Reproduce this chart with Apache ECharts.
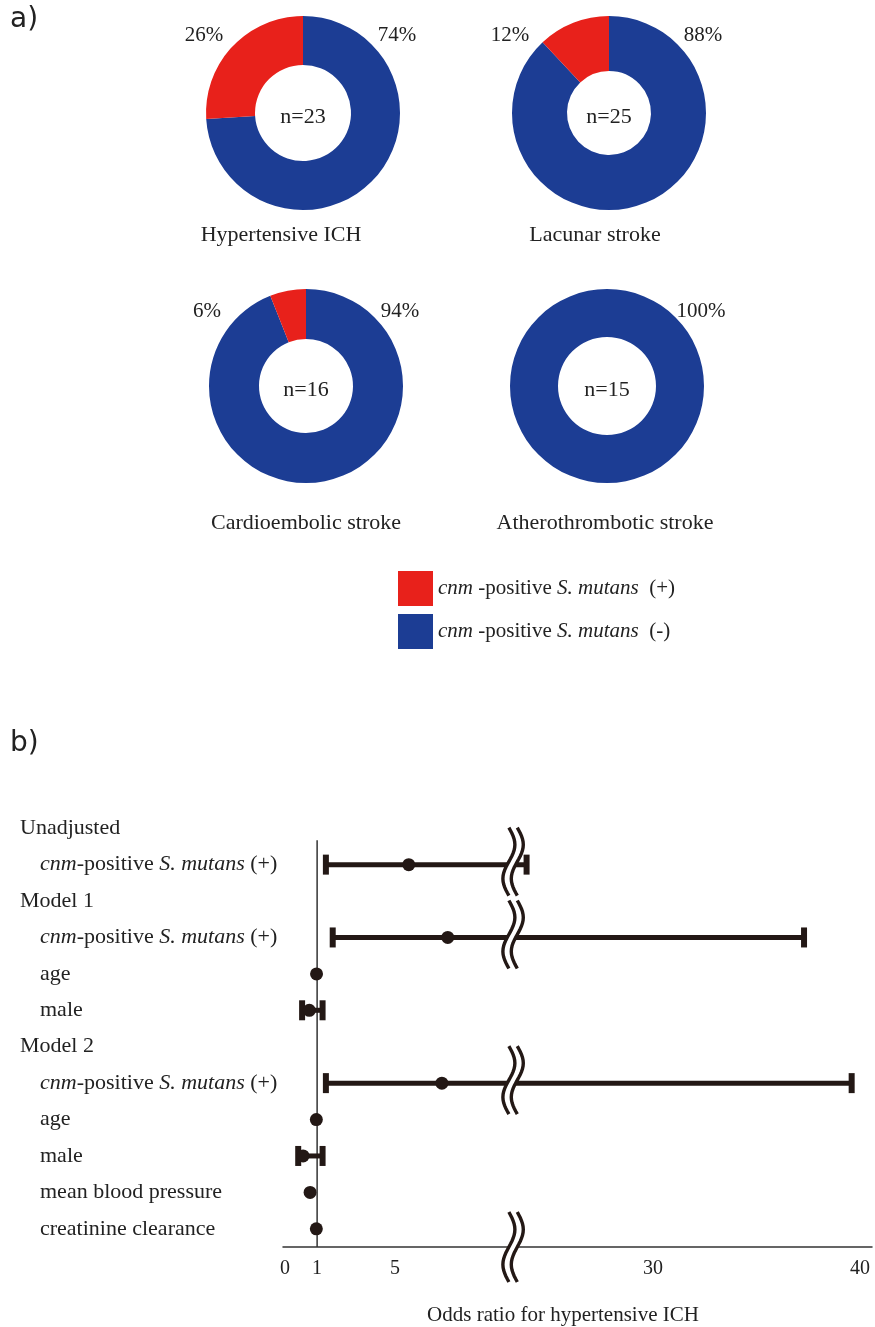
<!DOCTYPE html>
<html>
<head>
<meta charset="utf-8">
<script src="https://cdn.jsdelivr.net/npm/echarts@6/dist/echarts.min.js"></script>
<style>
html,body{margin:0;padding:0;background:#fff;}
#main{width:875px;height:1327px;}
</style>
</head>
<body>
<div id="main"></div>
<script>
// ---------- DATA: panel a (donuts) ----------
const strokeTypes = ['Hypertensive ICH', 'Lacunar stroke', 'Cardioembolic stroke', 'Atherothrombotic stroke'];
const sampleSizes = [23, 25, 16, 15];
const positivePct = [26, 12, 6, 0];
const negativePct = [74, 88, 94, 100];
const legendNames = ['cnm-positive S. mutans (+)', 'cnm-positive S. mutans (-)'];

// ---------- DATA: panel b (forest plot) ----------
const rowLabels = ['Unadjusted', 'cnm-positive S. mutans (+)', 'Model 1', 'cnm-positive S. mutans (+)', 'age', 'male',
  'Model 2', 'cnm-positive S. mutans (+)', 'age', 'male', 'mean blood pressure', 'creatinine clearance'];
const rowIsHeader = [true, false, true, false, false, false, true, false, false, false, false, false];
const oddsRatio = [null, 5.7, null, 7.7, 0.97, 0.6, null, 7.4, 0.96, 0.28, 0.64, 0.96];
const ciLower   = [null, 1.45, null, 1.8, 0.95, 0.23, null, 1.45, 0.94, 0.03, 0.62, 0.94];
const ciUpper   = [null, 23.9, null, 37.3, 0.99, 1.28, null, 39.6, 0.98, 1.28, 0.66, 0.98];
const xTickValues = [0, 1, 5, 30, 40];
const axisBreak = { start: 11, end: 23.2 };   // broken x-axis range

// ---------- helpers ----------
const SERIF = '"Liberation Serif", "DejaVu Serif", serif';
const BLUE = '#1c3d94', RED = '#e8211b', INK = '#231815';
const UPPER_SCALE = 1.062;
function toDisplay(v) {
  return v <= axisBreak.start ? v : axisBreak.start + (v - axisBreak.end) * UPPER_SCALE;
}
function richLabel(s) {
  return s.replace('cnm', '{i|cnm}').replace('S. mutans', '{i|S. mutans}')
          .split(/(\{i\|[^}]*\})/).map(p => p.startsWith('{i|') ? p : (p ? '{r|' + p + '}' : '')).join('');
}

const chart = echarts.init(document.getElementById('main'), null, { renderer: 'canvas' });

// donut layout
const donutCenters = [[303, 113], [609, 113], [306, 386], [607, 386]];
const donutInner = [48, 42, 47, 49];
const donutOuter = 97;
const nameOffsets = [[-22, 122], [-14, 122], [0, 137], [-2, 137]];

const pieSeries = strokeTypes.map((t, i) => ({
  type: 'pie',
  name: t,
  center: donutCenters[i],
  radius: [donutInner[i], donutOuter],
  startAngle: 90,
  clockwise: true,
  silent: true,
  animation: false,
  label: { show: false },
  labelLine: { show: false },
  emphasis: { disabled: true },
  itemStyle: { borderWidth: 0 },
  data: [
    { name: legendNames[1], value: negativePct[i], itemStyle: { color: BLUE } },
    { name: legendNames[0], value: positivePct[i], itemStyle: { color: RED } }
  ]
}));

// text graphics for donuts
const graphics = [];
strokeTypes.forEach((t, i) => {
  const [cx, cy] = donutCenters[i];
  const dy = i < 2 ? -78 : -75;
  if (positivePct[i] > 0) {
    graphics.push({ type: 'text', x: cx - 99, y: cy + dy, style: { text: positivePct[i] + '%', font: '21px ' + SERIF, fill: '#222', align: 'center', verticalAlign: 'middle' } });
  }
  graphics.push({ type: 'text', x: cx + 94, y: cy + dy, style: { text: negativePct[i] + '%', font: '21px ' + SERIF, fill: '#222', align: 'center', verticalAlign: 'middle' } });
  graphics.push({ type: 'text', x: cx, y: cy + 4, style: { text: 'n=' + sampleSizes[i], font: '22px ' + SERIF, fill: '#222', align: 'center', verticalAlign: 'middle' } });
  graphics.push({ type: 'text', x: cx + nameOffsets[i][0], y: cy + nameOffsets[i][1], style: { text: t, font: '22px ' + SERIF, fill: '#222', align: 'center', verticalAlign: 'middle' } });
});
graphics.push({ type: 'text', left: 10, top: 6, style: { text: 'a)', font: '28px "DejaVu Sans", sans-serif', fill: '#222' } });
graphics.push({ type: 'text', left: 10, top: 730, style: { text: 'b)', font: '28px "DejaVu Sans", sans-serif', fill: '#222' } });

// forest data in display coordinates
const forestData = [];
rowLabels.forEach((l, i) => {
  if (oddsRatio[i] !== null) forestData.push([i, toDisplay(ciLower[i]), toDisplay(oddsRatio[i]), toDisplay(ciUpper[i])]);
});
const breakRows = [];
rowLabels.forEach((l, i) => {
  if (ciUpper[i] !== null && ciUpper[i] > axisBreak.start) breakRows.push([i, axisBreak.start]);
});

function wavy(xc, yc, h) {
  const A = 6, N = 24, off = 4.2;
  const left = [], right = [];
  for (let k = 0; k <= N; k++) {
    const t = k / N;
    const y = yc - h / 2 + t * h;
    const x = xc + A * Math.sin(2 * Math.PI * t);
    left.push([x - off, y]);
    right.push([x + off, y]);
  }
  return [
    { type: 'polygon', shape: { points: left.concat(right.slice().reverse()) }, style: { fill: '#fff' } },
    { type: 'polyline', shape: { points: left }, style: { stroke: INK, lineWidth: 3.4, fill: null } },
    { type: 'polyline', shape: { points: right }, style: { stroke: INK, lineWidth: 3.4, fill: null } }
  ];
}

const option = {
  animation: false,
  backgroundColor: '#fff',
  textStyle: { fontFamily: SERIF },
  legend: {
    data: legendNames,
    orient: 'vertical',
    left: 398,
    top: 571,
    padding: 0,
    icon: 'rect',
    itemWidth: 35,
    itemHeight: 35,
    itemGap: 8,
    selectedMode: false,
    formatter: function (name) {
      return name.replace('cnm-', '{i|cnm} -').replace('S. mutans', '{i|S. mutans}').replace(' (', '  (');
    },
    textStyle: {
      fontFamily: SERIF, fontSize: 21, color: '#222',
      rich: { i: { fontStyle: 'italic', fontFamily: SERIF, fontSize: 21, color: '#222' } }
    }
  },
  grid: { left: 283, right: 3, top: 810, bottom: 79, containLabel: false },
  xAxis: {
    type: 'value',
    min: -0.75,
    max: 29.46,
    axisLine: { show: true, lineStyle: { color: '#333', width: 1.5 } },
    axisTick: { show: false },
    splitLine: { show: false },
    axisLabel: {
      customValues: xTickValues.map(toDisplay),
      margin: 12,
      formatter: function (v) {
        const idx = xTickValues.findIndex(t => Math.abs(toDisplay(t) - v) < 1e-6);
        const t = idx >= 0 ? xTickValues[idx] : v;
        return t === 0 ? '{z|0}' : '{n|' + t + '}';
      },
      rich: {
        z: { fontFamily: SERIF, fontSize: 20, color: '#222', padding: [0, 25, 0, 0] },
        n: { fontFamily: SERIF, fontSize: 20, color: '#222' }
      }
    },
    name: 'Odds ratio for hypertensive ICH',
    nameLocation: 'middle',
    nameGap: 58,
    nameTextStyle: { fontFamily: SERIF, fontSize: 21, color: '#222', padding: [0, 29, 0, 0] }
  },
  yAxis: {
    type: 'category',
    data: rowLabels,
    inverse: true,
    axisLine: { show: false },
    axisTick: { show: false },
    splitLine: { show: false },
    axisLabel: {
      align: 'left',
      margin: 263,
      interval: 0,
      formatter: function (value, index) {
        if (rowIsHeader[index]) return '{h|' + value + '}';
        return '{pad|}' + richLabel(value);
      },
      rich: {
        h: { fontFamily: SERIF, fontSize: 22, color: '#222' },
        r: { fontFamily: SERIF, fontSize: 22, color: '#222' },
        i: { fontFamily: SERIF, fontSize: 22, color: '#222', fontStyle: 'italic' },
        pad: { width: 20, fontSize: 22 }
      }
    }
  },
  graphic: graphics,
  series: pieSeries.concat([
    {
      type: 'custom',
      name: 'reference',
      silent: true,
      z: 2,
      data: [[1, 0]],
      renderItem: function (params, api) {
        const top = api.coord([api.value(0), api.value(1)]);
        const cs = params.coordSys;
        return { type: 'line', shape: { x1: top[0], y1: top[1] + 12, x2: top[0], y2: cs.y + cs.height }, style: { stroke: '#333', lineWidth: 1.5 } };
      }
    },
    {
      type: 'custom',
      name: 'odds ratio',
      silent: true,
      z: 3,
      data: forestData,
      renderItem: function (params, api) {
        const row = api.value(0);
        const lo = api.coord([api.value(1), row]);
        const or = api.coord([api.value(2), row]);
        const hi = api.coord([api.value(3), row]);
        const children = [
          { type: 'line', shape: { x1: lo[0], y1: lo[1], x2: hi[0], y2: hi[1] }, style: { stroke: INK, lineWidth: 5 } }
        ];
        if (hi[0] - lo[0] > 10) {
          children.push({ type: 'rect', shape: { x: lo[0] - 3, y: lo[1] - 10, width: 6, height: 20 }, style: { fill: INK } });
          children.push({ type: 'rect', shape: { x: hi[0] - 3, y: hi[1] - 10, width: 6, height: 20 }, style: { fill: INK } });
        }
        children.push({ type: 'circle', shape: { cx: or[0], cy: or[1], r: 6.5 }, style: { fill: INK } });
        return { type: 'group', children: children };
      }
    },
    {
      type: 'custom',
      name: 'breaks',
      silent: true,
      z: 4,
      data: breakRows,
      renderItem: function (params, api) {
        const p = api.coord([api.value(1), api.value(0)]);
        return { type: 'group', children: wavy(p[0] + 1, p[1] - 3, 68) };
      }
    },
    {
      type: 'custom',
      name: 'axis break',
      silent: true,
      z: 4,
      data: [[axisBreak.start, rowLabels.length - 1]],
      renderItem: function (params, api) {
        const p = api.coord([api.value(0), api.value(1)]);
        const cs = params.coordSys;
        return { type: 'group', children: wavy(p[0] + 1, cs.y + cs.height, 70) };
      }
    }
  ])
};
chart.setOption(option);
</script>
</body>
</html>
